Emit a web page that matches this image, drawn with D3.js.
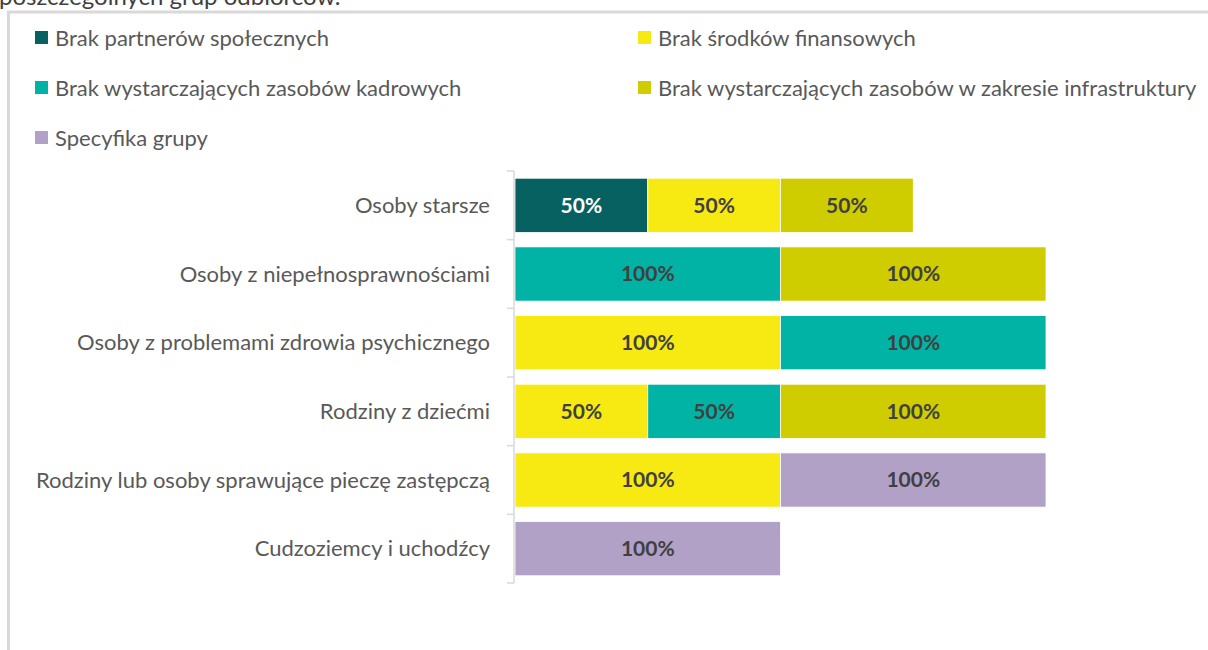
<!DOCTYPE html>
<html>
<head>
<meta charset="utf-8">
<script src="https://cdn.jsdelivr.net/npm/d3@7"></script>
<style>
  html, body { margin: 0; padding: 0; background: #fff; }
  svg { display: block; font-family: Lato, "Open Sans", sans-serif; }
</style>
</head>
<body>
<svg id="chart" width="1208" height="650"></svg>
<script>
// Groups of recipients (rows, top to bottom)
const categories = [
  "Osoby starsze",
  "Osoby z niepełnosprawnościami",
  "Osoby z problemami zdrowia psychicznego",
  "Rodziny z dziećmi",
  "Rodziny lub osoby sprawujące pieczę zastępczą",
  "Cudzoziemcy i uchodźcy"
];

// Barrier types, in stacking order
const seriesNames = [
  "Brak partnerów społecznych",
  "Brak środków finansowych",
  "Brak wystarczających zasobów kadrowych",
  "Brak wystarczających zasobów w zakresie infrastruktury",
  "Specyfika grupy"
];

// Percent values per series, aligned with categories
const partnerzy      = [50, 0, 0, 0, 0, 0];
const finanse        = [50, 0, 100, 50, 100, 0];
const kadry          = [0, 100, 100, 50, 0, 0];
const infrastruktura = [50, 100, 0, 100, 0, 0];
const specyfika      = [0, 0, 0, 0, 100, 100];

const seriesValues = [partnerzy, finanse, kadry, infrastruktura, specyfika];
const colors = ["#086161", "#f7e912", "#00b3a5", "#cfcc00", "#b2a1c7"];
const labelColors = ["#ffffff", "#404040", "#404040", "#404040", "#404040"];

const svg = d3.select("#chart");

// Frame of the chart area
svg.append("rect")
  .attr("x", 8.5).attr("y", 12)
  .attr("width", 1208).attr("height", 700)
  .attr("fill", "none")
  .attr("stroke", "#d9d9d9")
  .attr("stroke-width", 3);

// Caption line above the frame (partly cut off)
svg.append("text")
  .attr("x", -1).attr("y", 5)
  .attr("font-size", 24)
  .attr("fill", "#404040")
  .text("poszczególnych grup odbiorców.");

// Legend
const legendPos = [
  { x: 35, y: 38 }, { x: 638, y: 38 },
  { x: 35, y: 88 }, { x: 638, y: 88 },
  { x: 35, y: 138 }
];
const legend = svg.append("g");
seriesNames.forEach((name, i) => {
  const g = legend.append("g").attr("transform", `translate(${legendPos[i].x},${legendPos[i].y})`);
  g.append("rect").attr("x", 0).attr("y", -7).attr("width", 13).attr("height", 13).attr("fill", colors[i]);
  g.append("text").attr("x", 20).attr("y", 0).attr("dy", "0.35em")
    .attr("font-size", 22).attr("fill", "#595959").text(name);
});

// Scales
const x = d3.scaleLinear().domain([0, 200]).range([515, 1046]);
const y = d3.scaleBand().domain(categories).range([171, 583]).paddingInner(0.21).paddingOuter(0.105);

// Stacked data
const table = categories.map((c, i) => {
  const row = { category: c };
  seriesNames.forEach((s, j) => { row[s] = seriesValues[j][i]; });
  return row;
});
const stacked = d3.stack().keys(seriesNames)(table);

const layers = svg.append("g").selectAll("g")
  .data(stacked).join("g")
  .attr("fill", (d, i) => colors[i]);

layers.selectAll("rect")
  .data(d => d.filter(p => p[1] - p[0] > 0))
  .join("rect")
  .attr("x", p => x(p[0]))
  .attr("y", p => y(p.data.category))
  .attr("width", p => x(p[1]) - x(p[0]))
  .attr("height", y.bandwidth())
  .attr("stroke", "#ffffff")
  .attr("stroke-width", 0.8);

// Value labels
stacked.forEach((layer, i) => {
  svg.append("g").selectAll("text")
    .data(layer.filter(p => p[1] - p[0] > 0))
    .join("text")
    .attr("x", p => (x(p[0]) + x(p[1])) / 2)
    .attr("y", p => y(p.data.category) + y.bandwidth() / 2)
    .attr("dy", "0.35em")
    .attr("text-anchor", "middle")
    .attr("font-size", 21)
    .attr("font-weight", "bold")
    .attr("fill", labelColors[i])
    .text(p => (p[1] - p[0]) + "%");
});

// Category axis with ticks on band boundaries
const axisX = 514;
const axis = svg.append("g").attr("stroke", "#d9d9d9").attr("stroke-width", 1.5);
axis.append("line").attr("x1", axisX).attr("x2", axisX).attr("y1", 171).attr("y2", 583);
const bounds = d3.range(categories.length + 1).map(k => y.range()[0] + k * y.step());
axis.selectAll(".tick").data(bounds).join("line")
  .attr("x1", axisX - 7).attr("x2", axisX)
  .attr("y1", d => d).attr("y2", d => d);

svg.append("g").selectAll("text")
  .data(categories).join("text")
  .attr("x", 490)
  .attr("y", d => y(d) + y.bandwidth() / 2)
  .attr("dy", "0.35em")
  .attr("text-anchor", "end")
  .attr("font-size", 22)
  .attr("fill", "#595959")
  .text(d => d);
</script>
</body>
</html>
